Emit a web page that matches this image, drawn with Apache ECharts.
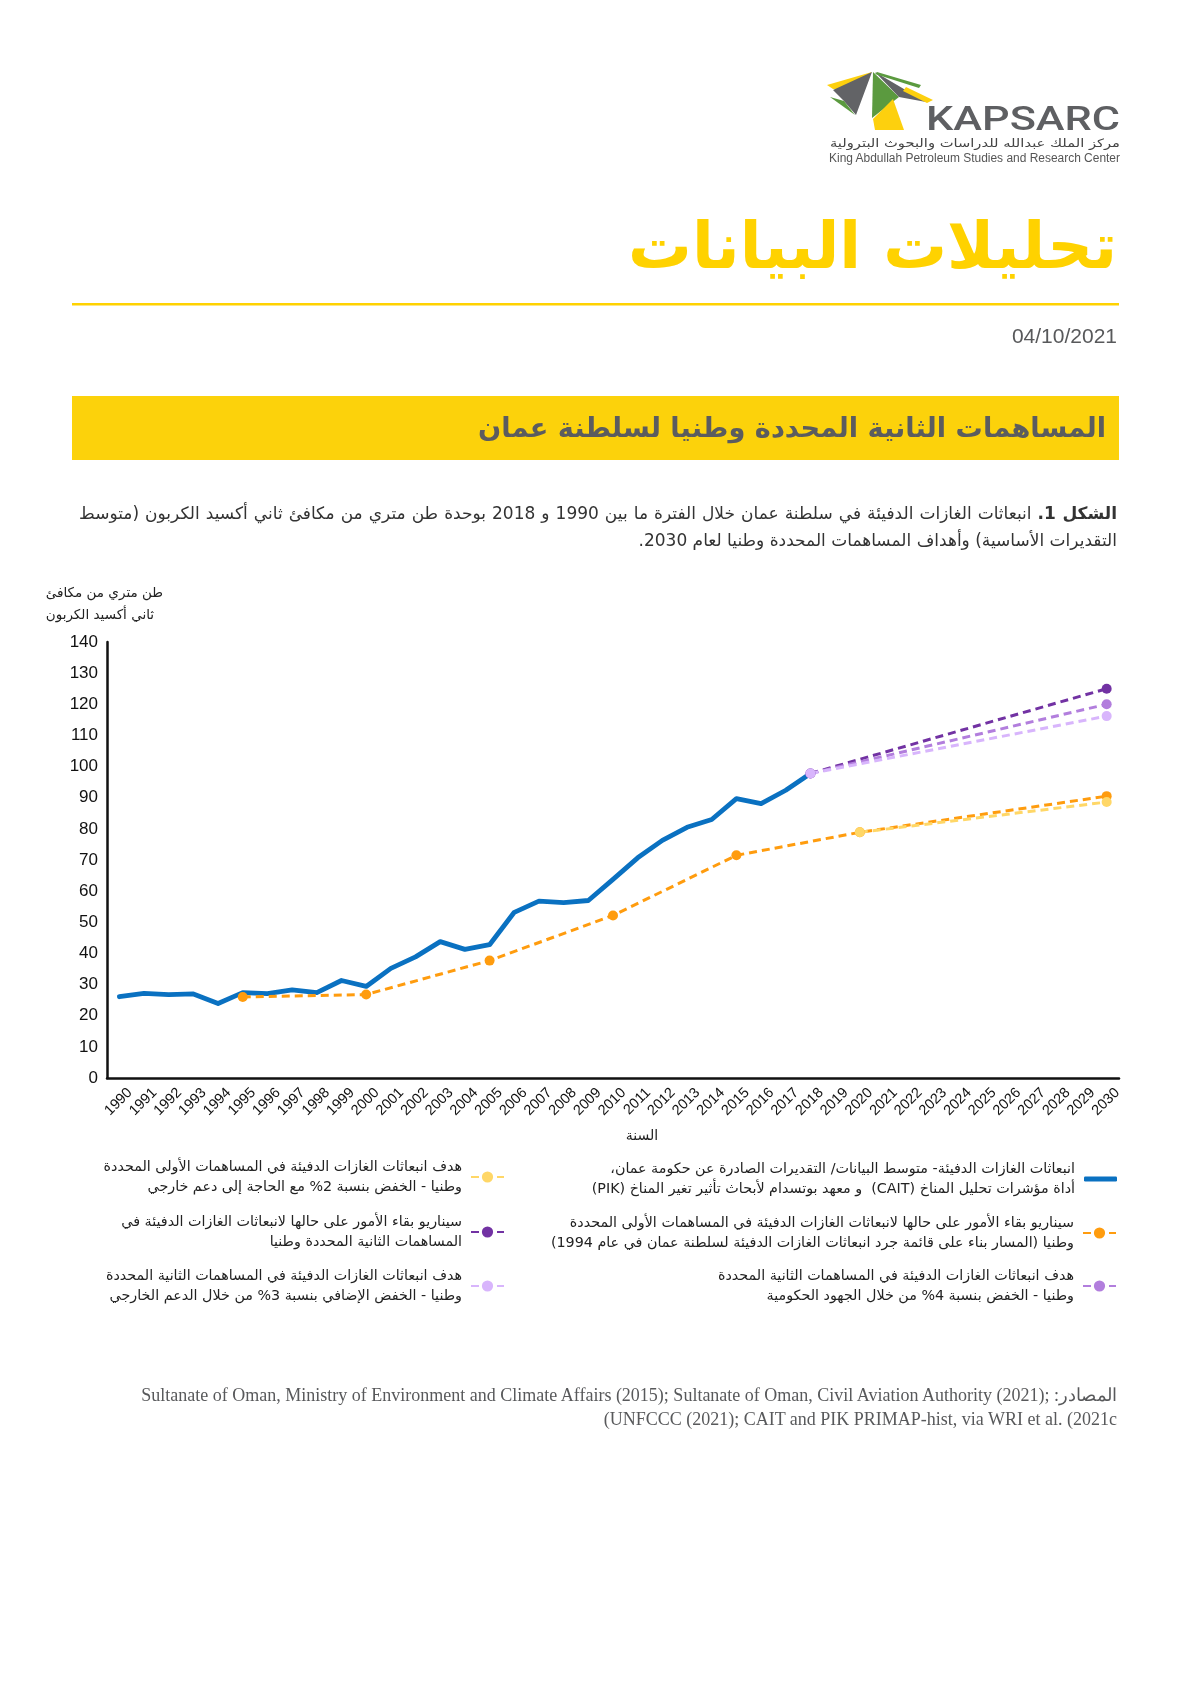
<!DOCTYPE html>
<html><head><meta charset="utf-8">
<script src="https://cdn.jsdelivr.net/npm/echarts@6/dist/echarts.min.js"></script>
<style>
html,body{margin:0;padding:0;background:#fff;}
#page{position:relative;width:1191px;height:1684px;overflow:hidden;background:#fff;}
#chart{position:absolute;left:0;top:0;width:1191px;height:1684px;}
.abs{position:absolute;}
.cap{position:absolute;right:74px;font-family:"DejaVu Sans",sans-serif;font-size:17px;line-height:24px;color:#333;white-space:nowrap;}
.src{position:absolute;right:74px;font-family:"Liberation Serif",serif;font-size:18px;line-height:22px;color:#58595b;white-space:nowrap;text-align:right;}
</style></head>
<body>
<div id="page">
<div id="chart" dir="rtl"></div>
<svg class="abs" style="left:0;top:0" width="1191" height="470">
  <polygon points="827,85 872,72 852,89 833,89" fill="#FDD00E"/>
  <polygon points="833,90 872,72 856,115 843,100" fill="#626366"/>
  <polygon points="830,97 844,101 855,115" fill="#5B9A3F"/>
  <polygon points="873,72 872,118 899,97" fill="#5B9A3F"/>
  <polygon points="875,72 926,102 899,97" fill="#626366"/>
  <polygon points="873,119 893,99 904,130 875,130" fill="#FDD00E"/>
  <polygon points="877,72 921,85 919,88 875,74" fill="#5B9A3F"/>
  <polygon points="906,87 933,100 927,103 903,91" fill="#FDD00E"/>
  <text x="926" y="130" font-family="Roboto, sans-serif" font-weight="500" font-size="33" fill="#5e5f62" textLength="194" lengthAdjust="spacingAndGlyphs">KAPSARC</text>
  <text x="1120" y="147" text-anchor="end" font-family="DejaVu Sans, sans-serif" font-size="11.5" fill="#444" textLength="290" lengthAdjust="spacingAndGlyphs">مركز الملك عبدالله للدراسات والبحوث البترولية</text>
  <text x="829" y="162" font-family="Liberation Sans, sans-serif" font-size="12" fill="#555" textLength="291" lengthAdjust="spacingAndGlyphs">King Abdullah Petroleum Studies and Research Center</text>
  <text x="1117" y="268" text-anchor="end" font-family="DejaVu Sans, sans-serif" font-weight="bold" font-size="64" fill="#FFD200" textLength="489" lengthAdjust="spacingAndGlyphs">تحليلات البيانات</text>
  <rect x="72" y="303" width="1047" height="2.5" fill="#FFD200"/>
  <text x="1117" y="343" text-anchor="end" font-family="Liberation Sans, sans-serif" font-size="21" fill="#58595b">04/10/2021</text>
  <rect x="72" y="396" width="1047" height="64" fill="#FCD20B"/>
  <text x="1106" y="437" text-anchor="end" font-family="DejaVu Sans, sans-serif" font-weight="bold" font-size="27" fill="#5b5c5f" textLength="628" lengthAdjust="spacingAndGlyphs">المساهمات الثانية المحددة وطنيا لسلطنة عمان</text>
</svg>
<div class="cap" dir="rtl" style="top:501px;width:1038px;text-align:justify;text-align-last:justify;"><b>الشكل 1.</b> انبعاثات الغازات الدفيئة في سلطنة عمان خلال الفترة ما بين 1990 و 2018 بوحدة طن متري من مكافئ ثاني أكسيد الكربون (متوسط</div>
<div class="cap" dir="rtl" style="top:528px;text-align:right;">التقديرات الأساسية) وأهداف المساهمات المحددة وطنيا لعام 2030.</div>
<div class="src" dir="ltr" style="top:1384px;">Sultanate of Oman, Ministry of Environment and Climate Affairs (2015); Sultanate of Oman, Civil Aviation Authority (2021); :المصادر</div>
<div class="src" dir="ltr" style="top:1408px;">(UNFCCC (2021); CAIT and PIK PRIMAP-hist, via WRI et al. (2021c</div>
</div>
<script>
// ---- data ----
const years = ['1990','1991','1992','1993','1994','1995','1996','1997','1998','1999','2000',
  '2001','2002','2003','2004','2005','2006','2007','2008','2009','2010',
  '2011','2012','2013','2014','2015','2016','2017','2018','2019','2020',
  '2021','2022','2023','2024','2025','2026','2027','2028','2029','2030'];
const histEmissions = [['1990',26.1],['1991',27.2],['1992',26.8],['1993',27.0],['1994',23.9],
  ['1995',27.4],['1996',27.1],['1997',28.3],['1998',27.4],['1999',31.3],['2000',29.4],
  ['2001',35.2],['2002',38.9],['2003',43.8],['2004',41.3],['2005',42.8],['2006',53.2],
  ['2007',56.8],['2008',56.3],['2009',57.0],['2010',63.8],['2011',70.7],['2012',76.3],
  ['2013',80.5],['2014',83.0],['2015',89.7],['2016',88.1],['2017',92.4],['2018',97.8]];
const ndc1Bau = [['1995',26.0],['2000',26.8],['2005',37.7],['2010',52.2],['2015',71.5],['2020',78.9],['2030',90.5]];
const ndc1Target = [['2020',78.9],['2030',88.6]];
const ndc2Bau = [['2018',97.8],['2030',125.0]];
const ndc2Target4 = [['2018',97.8],['2030',120.0]];
const ndc2Target3 = [['2018',97.8],['2030',116.2]];

const nameHist = 'انبعاثات الغازات الدفيئة- متوسط البيانات/ التقديرات الصادرة عن حكومة عمان،\nأداة مؤشرات تحليل المناخ (CAIT)  و معهد بوتسدام لأبحاث تأثير تغير المناخ (PIK)';
const nameNdc1Bau = 'سيناريو بقاء الأمور على حالها لانبعاثات الغازات الدفيئة في المساهمات الأولى المحددة\nوطنيا (المسار بناء على قائمة جرد انبعاثات الغازات الدفيئة لسلطنة عمان في عام 1994)';
const nameNdc2T4 = 'هدف انبعاثات الغازات الدفيئة في المساهمات الثانية المحددة\nوطنيا - الخفض بنسبة 4% من خلال الجهود الحكومية';
const nameNdc1T = 'هدف انبعاثات الغازات الدفيئة في المساهمات الأولى المحددة\nوطنيا - الخفض بنسبة 2% مع الحاجة إلى دعم خارجي';
const nameNdc2Bau = 'سيناريو بقاء الأمور على حالها لانبعاثات الغازات الدفيئة في\nالمساهمات الثانية المحددة وطنيا';
const nameNdc2T3 = 'هدف انبعاثات الغازات الدفيئة في المساهمات الثانية المحددة\nوطنيا - الخفض الإضافي بنسبة 3% من خلال الدعم الخارجي';

const yAxisName = 'طن متري من مكافئ\nثاني أكسيد الكربون';
const xAxisName = 'السنة';

// ---- styling ----
const C = {blue:'#0A71C1', orange:'#FF9C0E', yellow:'#FFD767', dark:'#7232A3', mid:'#B27EDD', light:'#D8B5FC'};
function dashed(name, data, color){
  return {type:'line', name:name, data:data, symbol:'circle', symbolSize:10, showSymbol:true,
    lineStyle:{color:color, width:3, type:[8,5]}, itemStyle:{color:color}, z:3};
}
const series = [
  {type:'line', name:nameHist, data:histEmissions, symbol:'none',
   lineStyle:{color:C.blue, width:4.8, cap:'round', join:'round'}, itemStyle:{color:C.blue}, z:2},
  dashed(nameNdc1Bau, ndc1Bau, C.orange),
  dashed(nameNdc1T, ndc1Target, C.yellow),
  dashed(nameNdc2Bau, ndc2Bau, C.dark),
  dashed(nameNdc2T4, ndc2Target4, C.mid),
  dashed(nameNdc2T3, ndc2Target3, C.light)
];
const legendSlots = [
  [nameHist, 74, 1159], [nameNdc1Bau, 74, 1213], [nameNdc2T4, 74, 1266],
  [nameNdc1T, 686, 1157], [nameNdc2Bau, 686, 1212], [nameNdc2T3, 686, 1266]
];
const legends = legendSlots.map((s, i) => ({
  data: i === 0 ? [{name:s[0], icon:'roundRect'}] : [s[0]],
  right:s[1], top:s[2], align:'right', orient:'vertical',
  itemWidth:33, itemHeight: i === 0 ? 5 : 14, selectedMode:false, padding:0,
  textStyle:{fontFamily:'DejaVu Sans', fontSize:14.3, lineHeight:20, color:'#222', padding:[0,4,0,0]}
}));

const chart = echarts.init(document.getElementById('chart'), null, {renderer:'canvas'});
chart.setOption({
  animation:false,
  grid:{left:107, right:72, top:642, bottom:606, containLabel:false},
  xAxis:{type:'category', data:years, boundaryGap:true,
    axisLine:{lineStyle:{color:'#111', width:2.5}}, axisTick:{show:false}, splitLine:{show:false},
    axisLabel:{rotate:45, interval:0, fontSize:14.5, color:'#111', margin:23, padding:[0,-15,0,0], fontFamily:'Liberation Sans'}},
  yAxis:{type:'value', min:0, max:140, interval:10,
    axisLine:{show:true, lineStyle:{color:'#111', width:2.5}}, axisTick:{show:false}, splitLine:{show:false},
    axisLabel:{fontSize:17, color:'#111', margin:9, fontFamily:'Liberation Sans'}},
  legend:legends,
  graphic:[
    {type:'text', right:1191-163, top:582, style:{text:yAxisName, fontFamily:'DejaVu Sans', fontSize:13.5, lineHeight:22, fill:'#222', align:'right'}},
    {type:'text', x:642, y:1136, style:{text:xAxisName, fontFamily:'DejaVu Sans', fontSize:14, fill:'#222', align:'center', verticalAlign:'middle'}}
  ],
  series:series
});
</script>
</body></html>
